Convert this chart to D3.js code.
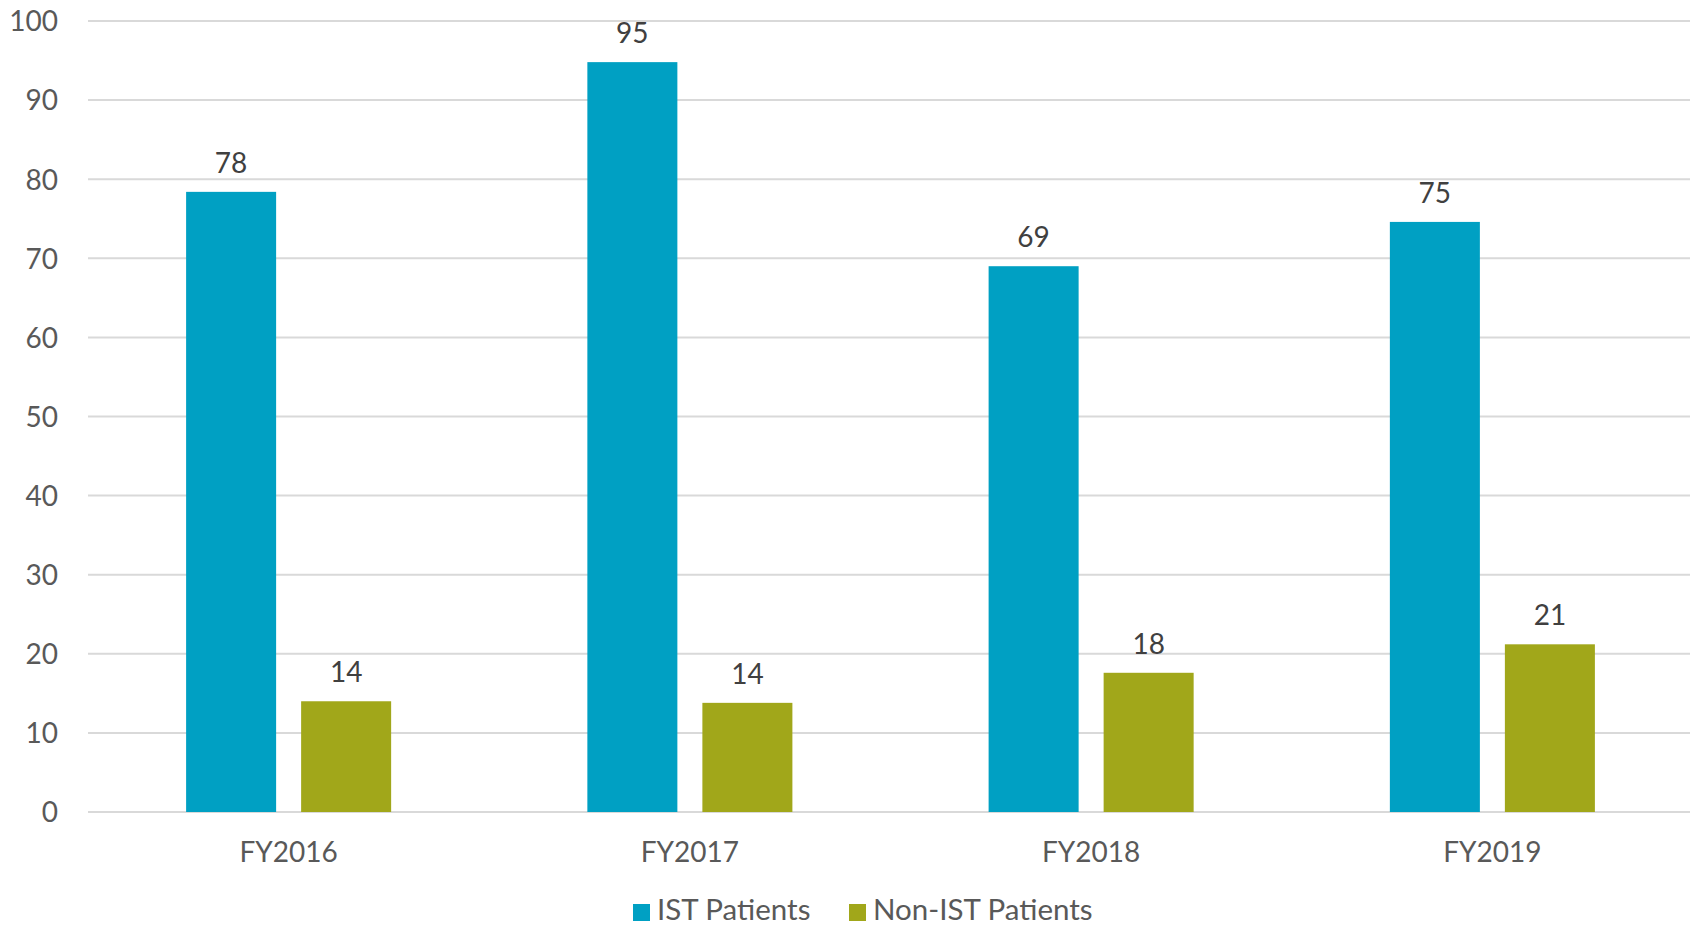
<!DOCTYPE html>
<html>
<head>
<meta charset="utf-8">
<script src="https://cdn.jsdelivr.net/npm/d3@7"></script>
<style>
  html, body { margin: 0; padding: 0; background: #fff; }
  svg { display: block; font-family: Lato, "Open Sans", sans-serif; }
</style>
</head>
<body>
<svg id="chart" width="1690" height="926"></svg>
<script>
const categories = ["FY2016", "FY2017", "FY2018", "FY2019"];
const seriesNames = ["IST Patients", "Non-IST Patients"];
const istValues = [78.4, 94.8, 69.0, 74.6];
const nonIstValues = [14.0, 13.8, 17.6, 21.2];
const yTicks = [0, 10, 20, 30, 40, 50, 60, 70, 80, 90, 100];
const colors = ["#00A0C3", "#A1A71A"];

const seriesValues = [istValues, nonIstValues];
const svg = d3.select("#chart");

const plotLeft = 88, plotRight = 1693, plotTop = 21, plotBottom = 812;

const x0 = d3.scaleBand().domain(categories).range([plotLeft, plotRight]).padding(0);
const x1 = d3.scaleBand().domain(seriesNames).range([0, x0.bandwidth()])
  .paddingInner(0.2174).paddingOuter(0.853);
const y = d3.scaleLinear().domain([0, 100]).range([plotBottom, plotTop]);

// gridlines
svg.append("g").selectAll("line").data(yTicks).join("line")
  .attr("x1", plotLeft).attr("x2", 1690)
  .attr("y1", d => y(d)).attr("y2", d => y(d))
  .attr("stroke", "#d9d9d9").attr("stroke-width", 2);

// y axis labels
const yAxis = d3.axisLeft(y).tickValues(yTicks).tickSize(0).tickPadding(0);
const gy = svg.append("g").attr("transform", "translate(58,0)").call(yAxis);
gy.select(".domain").remove();
gy.selectAll("text").attr("font-size", 28).attr("fill", "#595959")
  .attr("font-family", "Lato, 'Open Sans', sans-serif").attr("dy", "0.35em");

// bars
const data = [];
categories.forEach((c, i) => seriesNames.forEach((s, j) => data.push({c, s, j, v: seriesValues[j][i]})));

svg.append("g").selectAll("rect").data(data).join("rect")
  .attr("x", d => x0(d.c) + x1(d.s))
  .attr("width", x1.bandwidth())
  .attr("y", d => y(d.v))
  .attr("height", d => y(0) - y(d.v))
  .attr("fill", d => colors[d.j]);

// data labels
svg.append("g").selectAll("text").data(data).join("text")
  .attr("x", d => x0(d.c) + x1(d.s) + x1.bandwidth() / 2)
  .attr("y", d => y(d.v) - 19)
  .attr("text-anchor", "middle")
  .attr("font-size", 28).attr("fill", "#404040")
  .text(d => Math.round(d.v));

// x axis labels
const xAxis = d3.axisBottom(x0).tickSize(0).tickPadding(0);
const gx = svg.append("g").attr("transform", `translate(0,${plotBottom})`).call(xAxis);
gx.select(".domain").remove();
gx.selectAll("text").attr("font-size", 28).attr("fill", "#595959")
  .attr("font-family", "Lato, 'Open Sans', sans-serif")
  .attr("dy", null).attr("y", 50);

// legend
const legendItems = [{name: seriesNames[0], x: 633, color: colors[0]}, {name: seriesNames[1], x: 849, color: colors[1]}];
const lg = svg.append("g");
legendItems.forEach(it => {
  lg.append("rect").attr("x", it.x).attr("y", 904).attr("width", 17).attr("height", 17).attr("fill", it.color);
  lg.append("text").attr("x", it.x + 24).attr("y", 920).attr("font-size", 29.5).attr("fill", "#595959").text(it.name);
});
</script>
</body>
</html>
